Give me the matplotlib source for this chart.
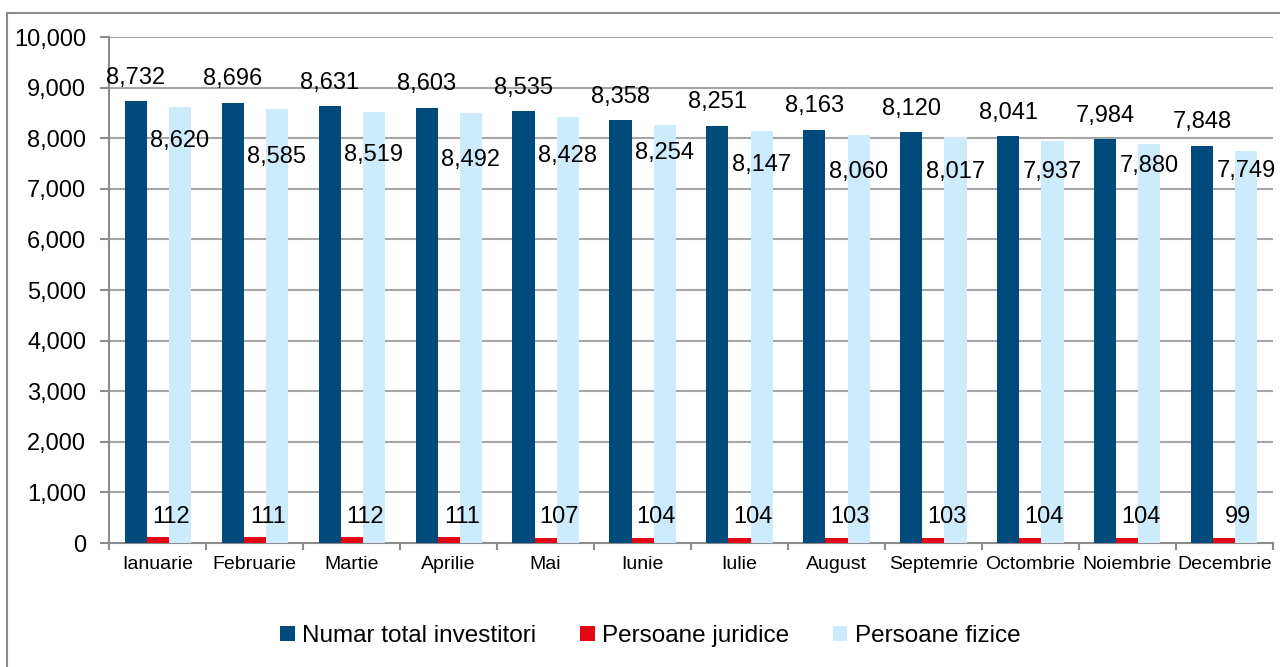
import matplotlib.pyplot as plt
from matplotlib.patches import Rectangle
from matplotlib.ticker import FuncFormatter, MultipleLocator
import numpy as np

plt.rcParams['font.family'] = ['Liberation Sans', 'DejaVu Sans']

months = ["Ianuarie", "Februarie", "Martie", "Aprilie", "Mai", "Iunie",
          "Iulie", "August", "Septemrie", "Octombrie", "Noiembrie", "Decembrie"]
total_investitori = [8732, 8696, 8631, 8603, 8535, 8358, 8251, 8163, 8120, 8041, 7984, 7848]
persoane_juridice = [112, 111, 112, 111, 107, 104, 104, 103, 103, 104, 104, 99]
persoane_fizice = [8620, 8585, 8519, 8492, 8428, 8254, 8147, 8060, 8017, 7937, 7880, 7749]

# where Excel dropped the light-blue labels (label centre height)
fizice_label_y = [7945, 7628, 7668, 7569, 7648, 7708, 7470, 7332, 7332, 7332, 7451, 7352]

dark_blue = "#004A7C"
red = "#E30613"
light_blue = "#CCEBFC"
grid_gray = "#A6A6A6"

fig = plt.figure(figsize=(12.8, 6.67), dpi=100)
ax = fig.add_axes([0.0852, 0.1859, 0.9093, 0.7586])

# outer chart frame (runs off the bottom/right of the picture)
fig.patches.append(Rectangle((7 / 1280, -0.05), 1.1, 1 - 13 / 667 + 0.05,
                             transform=fig.transFigure, fill=False,
                             edgecolor="#8C8C8C", linewidth=1.5, zorder=0))

x = np.arange(len(months))
w = 0.227
ax.bar(x - w, total_investitori, w, color=dark_blue, label="Numar total investitori", zorder=3)
ax.bar(x, persoane_juridice, w, color=red, label="Persoane juridice", zorder=3)
ax.bar(x + w, persoane_fizice, w, color=light_blue, label="Persoane fizice", zorder=3)

fmt = lambda v: f"{v:,}"
for i in range(len(months)):
    ax.annotate(fmt(total_investitori[i]), (x[i] - w, total_investitori[i]),
                xytext=(0, 9), textcoords="offset points",
                ha="center", va="bottom", fontsize=17, zorder=5)
    ax.annotate(fmt(persoane_juridice[i]), (x[i] + 0.14, persoane_juridice[i]),
                xytext=(0, 7), textcoords="offset points",
                ha="center", va="bottom", fontsize=17, zorder=5)
    ax.text(x[i] + w, fizice_label_y[i], fmt(persoane_fizice[i]),
            ha="center", va="center", fontsize=17, zorder=5)

ax.set_xlim(-0.5, len(months) - 0.5)
ax.set_ylim(0, 10000)
ax.yaxis.set_major_locator(MultipleLocator(1000))
ax.yaxis.set_major_formatter(FuncFormatter(lambda v, p: f"{int(v):,}"))
ax.grid(axis="y", color=grid_gray, linewidth=1.5, zorder=0)

ax.set_xticks(x)
ax.set_xticklabels(months, fontsize=14)
ax.set_xticks(np.arange(len(months) + 1) - 0.5, minor=True)
ax.tick_params(axis="x", which="major", length=0, pad=9)
ax.tick_params(axis="x", which="minor", length=5, width=1.5, color="#8C8C8C")
ax.tick_params(axis="y", length=6.5, width=1.5, color="#8C8C8C", pad=10, labelsize=17)

for s in ["top", "right"]:
    ax.spines[s].set_visible(False)
for s in ["left", "bottom"]:
    ax.spines[s].set_color("#8C8C8C")
    ax.spines[s].set_linewidth(1.5)

fig.legend(loc="center", bbox_to_anchor=(0.508, 0.0465), ncol=3, frameon=False,
           fontsize=17.5, handlelength=0.6, handleheight=0.6, handletextpad=0.3,
           columnspacing=1.8)

fig.savefig("out.png", dpi=100)
